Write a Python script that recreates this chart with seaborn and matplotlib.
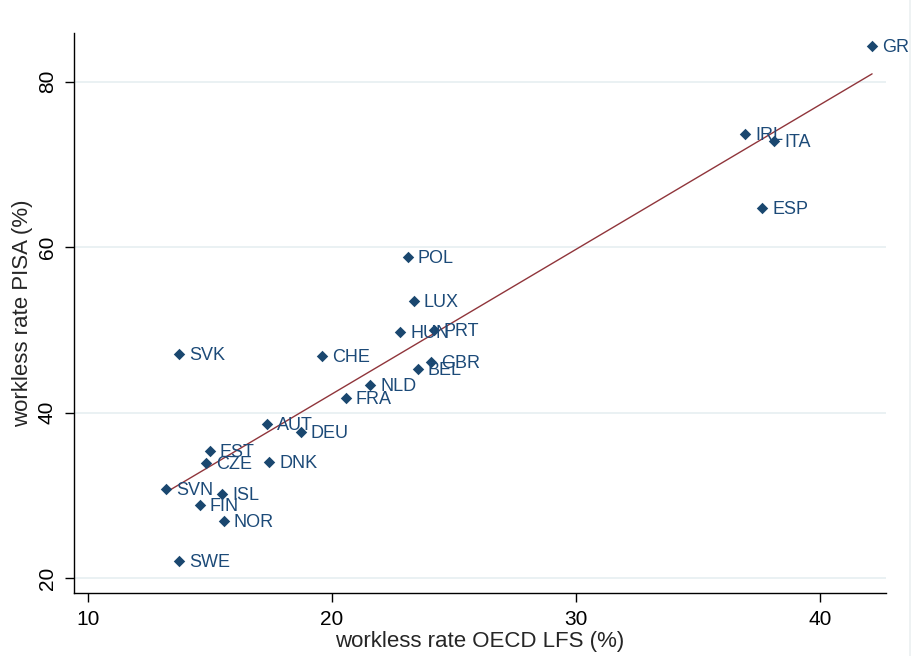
import matplotlib
matplotlib.use("Agg")
import matplotlib.pyplot as plt
from matplotlib.patches import Rectangle
import seaborn as sns
import pandas as pd
import numpy as np

countries = ["GRC", "IRL", "ITA", "ESP", "POL", "LUX", "HUN", "PRT", "SVK", "CHE",
             "GBR", "BEL", "NLD", "FRA", "AUT", "DEU", "EST", "CZE", "DNK", "SVN",
             "ISL", "FIN", "NOR", "SWE"]
lfs = [42.13, 36.93, 38.11, 37.62, 23.11, 23.36, 22.79, 24.18, 13.73, 19.59,
       24.06, 23.52, 21.56, 20.57, 17.34, 18.73, 15.00, 14.84, 17.42, 13.20,
       15.49, 14.59, 15.57, 13.73]
pisa = [84.36, 73.70, 72.87, 64.76, 58.83, 53.51, 49.76, 50.00, 47.10, 46.86,
        46.13, 45.28, 43.35, 41.78, 38.63, 37.66, 35.36, 33.91, 34.03, 30.77,
        30.16, 28.83, 26.90, 22.06]
x_ticks = [10, 20, 30, 40]
y_ticks = [20, 40, 60, 80]

df = pd.DataFrame({"country": countries, "lfs": lfs, "pisa": pisa})

sns.set_style("white")
plt.rcParams["font.family"] = ["Liberation Sans", "DejaVu Sans"]

navy = "#1a476f"
maroon = "#90353b"

fig = plt.figure(figsize=(9.12, 6.56), dpi=100)
ax = fig.add_axes([74 / 912, 1 - 593 / 656, (886 - 74) / 912, (593 - 33) / 656])

ax.set_xlim(9.43, 42.70)
ax.set_ylim(18.19, 85.9)
for yv in y_ticks:
    ax.axhline(yv, color="#e8f0f2", lw=1.3, zorder=0)

sns.regplot(data=df, x="lfs", y="pisa", ax=ax, scatter=False, ci=None,
            line_kws={"color": maroon, "lw": 1.0}, truncate=True)
sns.scatterplot(data=df, x="lfs", y="pisa", ax=ax, marker="D", s=34,
                color=navy, edgecolor=navy, linewidth=0, zorder=3)

fs_lab = 13
for c, xv, yv in zip(countries, lfs, pisa):
    ax.annotate(c, (xv, yv), xytext=(7.2, -0.358 * fs_lab), textcoords="offset points",
                ha="left", va="baseline", fontsize=fs_lab, color="#1c4a78", zorder=4,
                annotation_clip=False)

ax.set_xticks(x_ticks)
ax.set_yticks(y_ticks)
ax.set_xticklabels([str(v) for v in x_ticks], fontsize=15)
ax.set_yticklabels([str(v) for v in y_ticks], fontsize=15, rotation=90, va="center")
ax.tick_params(axis="both", direction="out", length=6.5, width=1, color="black",
               labelcolor="black", bottom=True, left=True, pad=6)
ax.set_xlabel("workless rate OECD LFS (%)", fontsize=16, labelpad=1)
ax.set_ylabel("workless rate PISA (%)", fontsize=16, labelpad=3)
for s in ["top", "right"]:
    ax.spines[s].set_visible(False)
for s in ["left", "bottom"]:
    ax.spines[s].set_color("black")
    ax.spines[s].set_linewidth(1.0)

fig.add_artist(Rectangle((909 / 912, 0), 3 / 912, 1, transform=fig.transFigure,
                         facecolor="#eef2f3", edgecolor="none", zorder=10))

fig.savefig("out.png", dpi=100)
